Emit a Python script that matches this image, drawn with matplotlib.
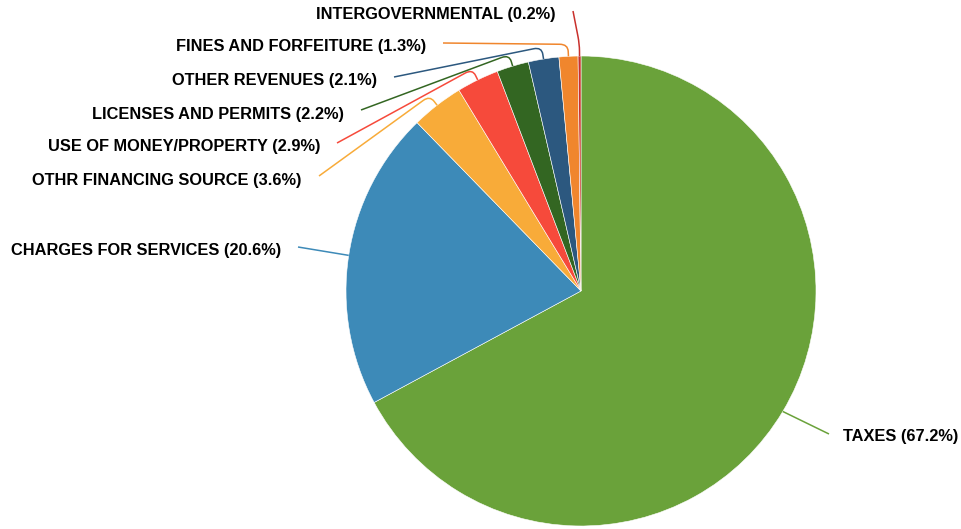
import numpy as np
import matplotlib.pyplot as plt
from matplotlib.path import Path
from matplotlib.patches import PathPatch

# Data
categories = ['TAXES', 'CHARGES FOR SERVICES', 'OTHR FINANCING SOURCE',
              'USE OF MONEY/PROPERTY', 'LICENSES AND PERMITS', 'OTHER REVENUES',
              'FINES AND FORFEITURE', 'INTERGOVERNMENTAL']
shares = [67.2, 20.6, 3.6, 2.9, 2.2, 2.1, 1.3, 0.2]
colors = ['#6aa23a', '#3d8ab8', '#f8ab39', '#f64a3b', '#336622', '#2c587f',
          '#f0862d', '#c9302c']

W, H = 961, 529
fig = plt.figure(figsize=(W / 100, H / 100), dpi=100)
fig.patch.set_facecolor('white')
ax = fig.add_axes([0, 0, 1, 1])

cx, cy, r = 581, H - 291, 235
ax.pie(shares, colors=colors, startangle=90, counterclock=False,
       center=(cx, cy), radius=r, frame=True,
       wedgeprops=dict(edgecolor='white', linewidth=0.4))
ax.set_xlim(0, W)
ax.set_ylim(0, H)
ax.axis('off')

# label anchor points (pixel coords, y from top): where the leader line ends
label_anchor = {
    'TAXES': (829, 434),
    'CHARGES FOR SERVICES': (298, 247),
    'OTHR FINANCING SOURCE': (319, 176),
    'USE OF MONEY/PROPERTY': (337, 143),
    'LICENSES AND PERMITS': (361, 110),
    'OTHER REVENUES': (394, 77),
    'FINES AND FORFEITURE': (443, 43),
    'INTERGOVERNMENTAL': (573, 11),
}
label_y = {
    'TAXES': 437, 'CHARGES FOR SERVICES': 250, 'OTHR FINANCING SOURCE': 181,
    'USE OF MONEY/PROPERTY': 147, 'LICENSES AND PERMITS': 114,
    'OTHER REVENUES': 80, 'FINES AND FORFEITURE': 47, 'INTERGOVERNMENTAL': 15,
}

total = sum(shares)
start = 0.0
for name, val, col in zip(categories, shares, colors):
    mid = start + val / 2
    start += val
    ang = np.deg2rad(90 - mid / total * 360)
    p0 = (cx + r * np.cos(ang), cy + r * np.sin(ang))
    p1 = (cx + (r + 5) * np.cos(ang), cy + (r + 5) * np.sin(ang))
    pc = (cx + (r + 12) * np.cos(ang), cy + (r + 12) * np.sin(ang))
    ax_, ay_ = label_anchor[name]
    pe = (ax_, H - ay_)
    # small rounded elbow
    d = np.array(pe) - np.array(pc)
    n = np.hypot(*d)
    p2 = tuple(np.array(pc) + d / n * min(8, n / 2)) if n > 0 else pc
    if name in ('TAXES', 'CHARGES FOR SERVICES'):
        verts = [p0, pe]
        codes = [Path.MOVETO, Path.LINETO]
    else:
        verts = [p0, p1, pc, p2, pe]
        codes = [Path.MOVETO, Path.LINETO, Path.CURVE3, Path.CURVE3, Path.LINETO]
    ax.add_patch(PathPatch(Path(verts, codes), facecolor='none',
                           edgecolor=col, linewidth=1.1))
    txt = f'{name} ({val:.1f}%)'
    if name == 'TAXES':
        ax.text(ax_ + 14, H - label_y[name], txt, ha='left', va='center',
                fontsize=11.8, fontweight='bold', family='Liberation Sans',
                color='black')
    else:
        ax.text(ax_ - 17, H - label_y[name], txt, ha='right', va='center',
                fontsize=11.8, fontweight='bold', family='Liberation Sans',
                color='black')

fig.savefig('out.png', dpi=100, facecolor='white')
